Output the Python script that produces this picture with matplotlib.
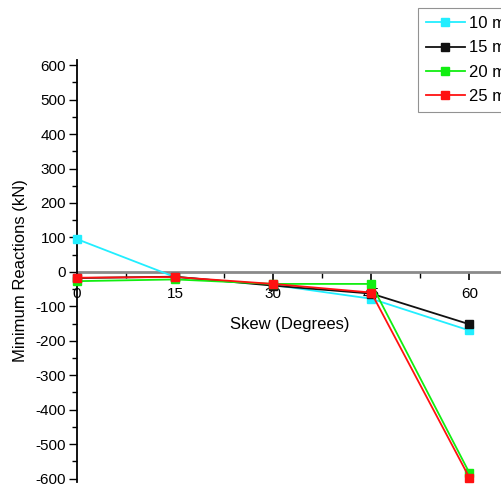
import matplotlib
matplotlib.use("Agg")
import matplotlib.pyplot as plt
from matplotlib.ticker import MultipleLocator, FuncFormatter

plt.rcParams['font.family'] = ['Liberation Sans', 'DejaVu Sans']
plt.rcParams['axes.unicode_minus'] = False

skew = [0, 15, 30, 45, 60]
labels = ["10 m", "15 m", "20 m", "25 m"]
r10 = [95, -15, -38, -78, -170]
r15 = [-18, -14, -40, -63, -152]
r20 = [-27, -22, -35, -35, -583]
r25 = [-17, -15, -35, -60, -597]
colors = ["#22EEFF", "#111111", "#11EE11", "#FF1111"]

fig = plt.figure(figsize=(5.02, 4.87), dpi=100)
ax = fig.add_axes([77/502, 1-482/487, 1-77/502, (482-60)/487])

for vals, col, lab in zip([r10, r15, r20, r25], colors, labels):
    ax.plot(skew, vals, color=col, lw=1.3, marker='s', ms=5.5,
            mec=col, mfc=col, label=lab, clip_on=False, zorder=3)

ax.set_xlim(0, 65)
ax.set_ylim(-610, 615)

for s in ['top', 'right']:
    ax.spines[s].set_visible(False)
ax.spines['left'].set_color('black')
ax.spines['left'].set_linewidth(1.3)
ax.spines['bottom'].set_position(('data', 0))
ax.spines['bottom'].set_color('#8a8a8a')
ax.spines['bottom'].set_linewidth(2.0)
ax.spines['bottom'].set_zorder(2)

ax.xaxis.set_major_locator(MultipleLocator(15))
ax.xaxis.set_minor_locator(MultipleLocator(7.5))
ax.yaxis.set_major_locator(MultipleLocator(100))
ax.yaxis.set_minor_locator(MultipleLocator(50))
ax.yaxis.set_major_formatter(FuncFormatter(lambda v, p: "%d" % v))
ax.xaxis.set_major_formatter(FuncFormatter(lambda v, p: "%d" % v))

ax.tick_params(axis='x', which='major', direction='out', length=6, width=1.2,
               color='black', labelsize=11, pad=5)
ax.tick_params(axis='x', which='minor', direction='out', length=4, width=1.0,
               color='black')
ax.tick_params(axis='y', which='major', direction='out', length=6, width=1.0,
               labelsize=11, pad=2)
ax.tick_params(axis='y', which='minor', direction='out', length=3.5, width=1.0)

ax.set_ylabel("Minimum Reactions (kN)", fontsize=12, labelpad=5)
ax.text(32.5, -153, "Skew (Degrees)", fontsize=12, ha='center', va='center')

leg = fig.legend(loc='upper left', bbox_to_anchor=(418/502, 1-8/487),
                 fontsize=12, frameon=True, fancybox=False, edgecolor='#777777',
                 handlelength=2.3, handletextpad=0.25, borderpad=0.5,
                 labelspacing=0.55, borderaxespad=0)
leg.get_frame().set_linewidth(0.8)

fig.savefig("out.png", dpi=100)
